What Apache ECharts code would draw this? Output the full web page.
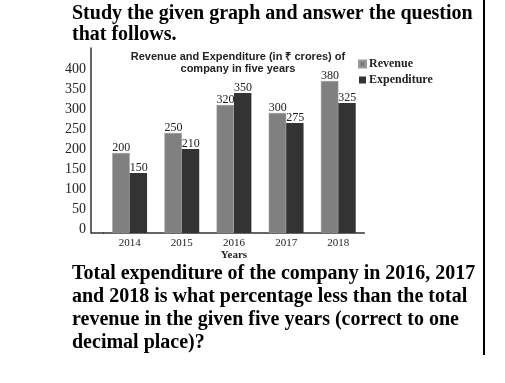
<!DOCTYPE html>
<html>
<head>
<meta charset="utf-8">
<script src="https://cdn.jsdelivr.net/npm/echarts@6/dist/echarts.min.js"></script>
<style>
html,body{margin:0;padding:0;background:#fff;}
#chart{width:505px;height:383px;}
</style>
</head>
<body>
<div id="chart"></div>
<script>
const categories = ['2014', '2015', '2016', '2017', '2018'];
const revenue = [200, 250, 320, 300, 380];
const expenditure = [150, 210, 350, 275, 325];
const seriesNames = ['Revenue', 'Expenditure'];
const headingText = 'Study the given graph and answer the question\nthat follows.';
const chartTitle = 'Revenue and Expenditure (in \u20B9 crores) of\ncompany in five years';
const questionText = 'Total expenditure of the company in 2016, 2017\nand 2018 is what percentage less than the total\nrevenue in the given five years (correct to one\ndecimal place)?';
const xName = 'Years';

const serif = '"Liberation Serif", "Times New Roman", serif';
const sans = '"Liberation Sans", Arial, sans-serif';

const chart = echarts.init(document.getElementById('chart'), null, {renderer: 'canvas'});

const labelCfg = {
  show: true,
  position: [0, 1],
  align: 'left',
  verticalAlign: 'bottom',
  fontFamily: serif,
  fontSize: 12,
  color: '#222'
};

chart.setOption({
  animation: false,
  backgroundColor: '#fff',
  title: [
    {
      text: headingText,
      left: 72, top: 3, padding: 0,
      textStyle: {fontFamily: serif, fontWeight: 'bold', fontSize: 20, lineHeight: 21, color: '#000'}
    },
    {
      text: chartTitle,
      left: 233, top: 46, textAlign: 'center',
      textStyle: {fontFamily: sans, fontWeight: 'bold', fontSize: 11, lineHeight: 12, color: '#222'}
    },
    {
      text: questionText,
      left: 72, top: 262, padding: 0,
      textStyle: {fontFamily: serif, fontWeight: 'bold', fontSize: 20, lineHeight: 23, color: '#000'}
    }
  ],
  legend: {
    orient: 'vertical',
    left: 353, top: 53,
    itemWidth: 7, itemHeight: 7, itemGap: 4,
    icon: 'rect',
    data: seriesNames,
    textStyle: {fontFamily: serif, fontWeight: 'bold', fontSize: 12, color: '#222', padding: [0, 0, 0, -2]}
  },
  grid: {left: 103.6, right: 140.6, top: 48, bottom: 150, containLabel: false, outerBoundsMode: 'none'},
  xAxis: {
    type: 'category',
    data: categories,
    axisLine: {lineStyle: {color: '#333', width: 1.5}},
    axisTick: {show: false},
    axisLabel: {fontFamily: serif, fontSize: 11, color: '#222', margin: 5},
    name: xName,
    nameLocation: 'middle',
    nameGap: 17,
    nameTextStyle: {fontFamily: serif, fontWeight: 'bold', fontSize: 11, color: '#222'}
  },
  yAxis: {
    type: 'value',
    min: 0, max: 462.5, interval: 50,
    offset: 12.6,
    axisLine: {show: true, lineStyle: {color: '#333', width: 1.5}},
    axisTick: {show: false},
    splitLine: {show: false},
    axisLabel: {
      fontFamily: serif, fontSize: 14, color: '#222', margin: 5,
      verticalAlign: 'bottom', lineHeight: 7,
      showMaxLabel: false,
      formatter: v => (v > 400 ? '' : String(v))
    }
  },
  series: [
    {
      name: seriesNames[0], type: 'bar', data: revenue,
      barGap: '0%', barCategoryGap: '33.3%',
      itemStyle: {color: '#808080', borderColor: '#9a9a9a', borderWidth: 0.5},
      label: labelCfg
    },
    {
      name: seriesNames[1], type: 'bar', data: expenditure,
      barGap: '0%', barCategoryGap: '33.3%',
      itemStyle: {color: '#333333'},
      label: labelCfg
    }
  ],
  graphic: [
    {type: 'line', shape: {x1: 484, y1: 0, x2: 484, y2: 355}, style: {stroke: '#000', lineWidth: 2}, silent: true},
    {type: 'line', shape: {x1: 91, y1: 233, x2: 104, y2: 233}, style: {stroke: '#333', lineWidth: 1.5}, silent: true}
  ]
});
</script>
</body>
</html>
